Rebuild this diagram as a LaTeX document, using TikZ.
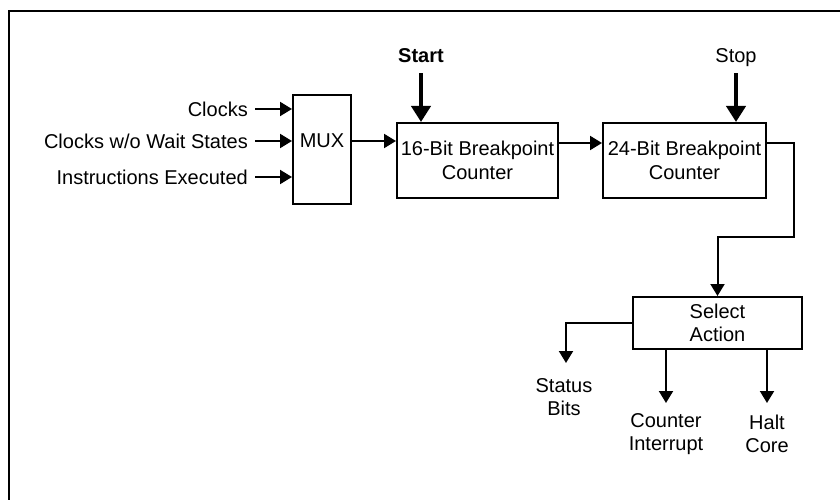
\documentclass[tikz,border=0pt]{standalone}
\usepackage{fontspec}
\setmainfont{Liberation Sans}
\usetikzlibrary{arrows.meta}
\begin{document}
\begin{tikzpicture}[x=1pt,y=-1pt,
  box/.style={draw,line width=2pt,inner sep=0pt},
  lbl/.style={font=\fontsize{20}{23.5}\selectfont,inner sep=0pt,align=center},
  inlbl/.style={lbl,text height=14.3pt,text depth=0pt},
  conn/.style={line width=2pt,-{Triangle[length=12pt,width=14pt]}},
  bigconn/.style={line width=4pt,-{Triangle[length=16pt,width=19pt]}}]
\useasboundingbox (0,0) rectangle (840,500);
\draw[line width=2.5pt] (840,11) -- (9,11) -- (9,500);

% boxes
\node[box,minimum width=58pt,minimum height=109pt] (mux) at (322,149.5) {};
\node[lbl] (muxl) at (322,141) {MUX};
\node[box,lbl,minimum width=161pt,minimum height=75pt] (b16) at (477.5,160.5) {16-Bit Breakpoint\\Counter};
\node[box,lbl,minimum width=163pt,minimum height=75pt] (b24) at (684.5,160.5) {24-Bit Breakpoint\\Counter};
\node[box,lbl,minimum width=169pt,minimum height=52pt] (sel) at (717.5,323) {Select\\Action};

% inputs
\node[inlbl,anchor=east] (in1) at (248,109) {Clocks};
\node[inlbl,anchor=east] (in2) at (248,141) {Clocks w/o Wait States};
\node[inlbl,anchor=east] (in3) at (248,177) {Instructions Executed};
\draw[conn,shorten <=7pt] (in1.east) -- (mux.west |- in1.east);
\draw[conn,shorten <=7pt] (in2.east) -- (mux.west |- in2.east);
\draw[conn,shorten <=7pt] (in3.east) -- (mux.west |- in3.east);

\draw[conn] (mux.east |- in2.east) -- (b16.west |- in2.east);
\draw[conn] ([yshift=17.5pt]b16.east) -- ([yshift=17.5pt]b24.west);

% start / stop
\node[inlbl,font=\fontsize{20}{23.5}\selectfont\bfseries] (start) at (421,55) {Start};
\node[inlbl] (stop) at (736,55) {Stop};
\draw[bigconn,shorten <=11pt] (start.south) -- (start.south |- b16.north);
\draw[bigconn,shorten <=11pt] (stop.south) -- (stop.south |- b24.north);

% to select action
\coordinate (bend) at (794,237);
\draw[line width=2pt,-{Triangle[length=12pt,width=14pt]}] ([yshift=17.5pt]b24.east) -| (bend) -| (sel.north);

% outputs
\node[lbl] (status) at (564,397) {Status\\Bits};
\node[lbl] (ci) at (666,434) {Counter\\Interrupt};
\node[lbl] (hc) at (767,434) {Halt\\Core};
\coordinate (sbtip) at (566,363);
\coordinate (citip) at (666,403);
\coordinate (hctip) at (767,403);
\draw[conn] (sel.west) -| (sbtip);
\draw[conn] (citip |- sel.south) -- (citip);
\draw[conn] (hctip |- sel.south) -- (hctip);
\end{tikzpicture}
\end{document}
